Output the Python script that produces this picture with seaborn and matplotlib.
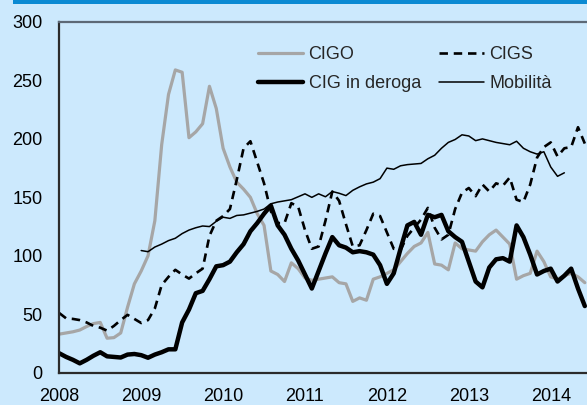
import numpy as np
import pandas as pd
import matplotlib
matplotlib.use('Agg')
import matplotlib.pyplot as plt
from matplotlib.patches import Rectangle
import seaborn as sns

# dati mensili, gennaio 2008 - giugno 2014
cigo = [33, 34, 35, 36.5, 39.5, 42, 43, 29.5, 30, 34, 56, 76,
        87, 100, 130, 195, 238, 259, 257, 201, 206, 213, 245, 226,
        192, 176, 163, 157, 150, 136, 126, 87, 84, 78, 94, 89,
        81, 79, 80, 81, 82, 77, 76, 61, 64, 62, 80, 82,
        85, 88, 95, 102, 108, 111, 120, 93, 92, 88, 111, 106,
        105, 104, 112, 118, 122, 116, 110, 80, 83, 85, 104, 95,
        82, 80, 83, 85, 82, 77]
cigs = [51, 46.5, 46, 45, 43, 40, 38.5, 36, 40, 45, 49.5, 46,
        42.5, 45, 55, 75, 82, 88, 84, 80.5, 85, 89, 117, 130,
        134, 140, 165, 192, 198, 180, 162, 138, 128, 128, 145, 142,
        122, 106, 108, 130, 155, 147, 127, 108, 109, 122, 136, 134,
        120, 106, 105, 117, 124, 131, 141, 124, 114, 118, 140, 154,
        158, 151, 161, 155, 162, 160, 167, 148, 146, 161, 184, 193,
        197, 185, 192, 193, 210, 196]
deroga = [16.6, 13.5, 11, 8, 11, 14.5, 17.5, 14, 13.5, 13, 15.5, 16,
          15, 12.8, 15.5, 17.5, 20, 20, 43, 54, 68, 70, 80, 91,
          92, 95, 103, 110, 121, 128, 136, 143, 126, 118, 106, 96,
          84, 72, 87, 102, 116, 109, 107, 103, 104, 103, 101, 92,
          76, 85, 106, 126, 129, 118, 135, 133, 135, 121, 116, 112,
          95, 78, 73, 90, 97, 98, 95, 126, 116, 101, 84, 87,
          89, 78, 83, 89, 72, 57]
# mobilità parte da gennaio 2009
mobilita = [104.5, 103.5, 107.5, 110, 113, 115, 119, 122, 124, 125.5, 125, 129.5,
            133, 132, 134.5, 135, 136.5, 138, 140, 144.5, 146, 147, 148, 150.5,
            153, 150, 153, 150.5, 155, 153.5, 151.5, 156, 159, 161.5, 163, 166,
            175, 174, 177, 178, 178.5, 179, 183, 186, 192, 197, 199.5, 203.5,
            202.5, 198.5, 200, 198.5, 197, 196, 195, 198, 192, 189, 187, 189,
            176, 168, 171]
anni = [2008, 2009, 2010, 2011, 2012, 2013, 2014]

t = 2008 + np.arange(len(cigo)) / 12
df = pd.DataFrame({'t': t, 'CIGO': cigo, 'CIGS': cigs, 'CIG in deroga': deroga})
df_mob = pd.DataFrame({'t': 2009 + np.arange(len(mobilita)) / 12, 'Mobilità': mobilita})

sns.set_style('white')
plt.rcParams['font.family'] = ['Liberation Sans', 'DejaVu Sans']

bg = '#CCE9FD'
fig = plt.figure(figsize=(5.87, 4.05), dpi=100, facecolor=bg)
ax = fig.add_axes([59.3 / 587, 32.3 / 405, 1 - 59.3 / 587, 350.7 / 405])
ax.set_facecolor(bg)

sns.lineplot(data=df, x='t', y='CIGO', ax=ax, color='#A6A6A6', lw=2.3, label='CIGO')
sns.lineplot(data=df, x='t', y='CIG in deroga', ax=ax, color='black', lw=3.2, label='CIG in deroga')
sns.lineplot(data=df, x='t', y='CIGS', ax=ax, color='black', lw=1.9, label='CIGS')
ax.lines[-1].set_dashes([3.2, 2.2])
sns.lineplot(data=df_mob, x='t', y='Mobilità', ax=ax, color='black', lw=1.1, label='Mobilità')

ax.set_xlim(2008, 2008 + (587 - 59.3) / 81.9)
ax.set_ylim(0, 300)
ax.set_xticks(anni)
ax.set_xticklabels([str(a) for a in anni])
ax.set_yticks(range(0, 301, 50))
ax.set_xlabel('')
ax.set_ylabel('')
ax.tick_params(axis='both', labelsize=13, colors='black', direction='out', length=5, width=1.3)
ax.tick_params(axis='x', length=4, pad=7)
ax.tick_params(axis='y', pad=7)

for s in ['left', 'bottom']:
    ax.spines[s].set_color('#2b2b2b')
    ax.spines[s].set_linewidth(1.6)
ax.spines['top'].set_color('#5d6976')
ax.spines['top'].set_linewidth(1.6)
ax.spines['right'].set_visible(False)

leg = ax.legend(frameon=False, ncol=2, fontsize=13, loc='upper left',
                bbox_to_anchor=(258 / 587, 1 - 46 / 405), bbox_transform=fig.transFigure,
                borderpad=0, borderaxespad=0, handlelength=2.5, handletextpad=0.3,
                columnspacing=1.0, labelspacing=0.68)

# barra blu in alto
fig.add_artist(Rectangle((13 / 587, 1 - 3.5 / 405), 1, 3.5 / 405, color='#0B8AD3',
                         transform=fig.transFigure, lw=0))

fig.savefig('out.png', dpi=100, facecolor=bg)
